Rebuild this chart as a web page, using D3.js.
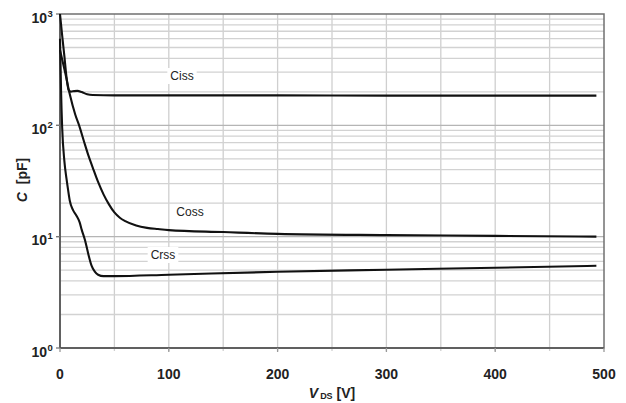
<!DOCTYPE html>
<html><head><meta charset="utf-8">
<script src="https://cdn.jsdelivr.net/npm/d3@7"></script>
<style>body{margin:0;background:#fff}svg{display:block}</style>
</head><body>
<svg id="c" width="626" height="403"></svg>
<script>
// Data (V_DS in volts, capacitance in pF)
const cissV = [0, 2, 4, 6, 8, 10, 13, 16, 20, 25, 30, 50, 100, 200, 300, 400, 493];
const cissC = [1000, 640, 420, 270, 207, 201, 203, 204, 199, 190, 187, 186, 186, 186, 185, 185, 185];
const cossV = [0, 5, 9, 14, 18, 22, 26, 30, 35, 40, 45, 50, 55, 60, 70, 80, 90, 100, 150, 200, 300, 400, 493];
const cossC = [475, 290, 190, 125, 97, 72, 54, 42, 31, 24, 19.5, 16.5, 14.8, 13.8, 12.6, 12.0, 11.7, 11.45, 11.0, 10.6, 10.33, 10.17, 10.0];
const crssV = [0, 0.5, 1, 2, 4, 6, 7.5, 9, 12, 15, 18, 20, 23, 26, 29, 32, 35, 40, 50, 100, 200, 300, 400, 493];
const crssC = [600, 350, 200, 95, 48, 33, 26, 21, 17.3, 15.5, 13.5, 11.5, 9.3, 7, 5.5, 4.85, 4.55, 4.42, 4.42, 4.55, 4.84, 5.05, 5.26, 5.48];
const seriesNames = ["Ciss", "Coss", "Crss"];
const xTicks = [0, 100, 200, 300, 400, 500];
const yDecades = [1, 10, 100, 1000];
const yExps = ["0", "1", "2", "3"];

const svg = d3.select("#c");
const x = d3.scaleLinear().domain([0, 500]).range([60, 604]);
const y = d3.scaleLog().domain([1, 1000]).range([348, 14]);

// grid
const g = svg.append("g");
const vGrid = d3.range(50, 500, 50);
g.selectAll(".vg").data(vGrid).enter().append("line")
  .attr("x1", d => x(d)).attr("x2", d => x(d))
  .attr("y1", y(1000)).attr("y2", y(1) + 3)
  .attr("stroke", "#cfcfcf").attr("stroke-width", 1.3);
const hGrid = [];
[1, 10, 100].forEach(dec => { for (let k = 2; k <= 9; k++) hGrid.push(dec * k); });
g.selectAll(".hg").data(hGrid).enter().append("line")
  .attr("x1", x(0)).attr("x2", x(500))
  .attr("y1", d => y(d)).attr("y2", d => y(d))
  .attr("stroke", "#d2d2d2").attr("stroke-width", 1.3);
g.selectAll(".dg").data([10, 100]).enter().append("line")
  .attr("x1", x(0) - 4).attr("x2", x(500))
  .attr("y1", d => y(d)).attr("y2", d => y(d))
  .attr("stroke", "#b5b5b5").attr("stroke-width", 1.3);

// frame
svg.append("rect").attr("x", x(0)).attr("y", y(1000))
  .attr("width", x(500) - x(0)).attr("height", y(1) - y(1000))
  .attr("fill", "none").attr("stroke", "#707070").attr("stroke-width", 1.5);
svg.append("line").attr("x1", x(0)).attr("x2", x(500)).attr("y1", y(1)).attr("y2", y(1))
  .attr("stroke", "#606060").attr("stroke-width", 2);
svg.append("line").attr("x1", x(0)).attr("x2", x(0)).attr("y1", y(1000)).attr("y2", y(1))
  .attr("stroke", "#505050").attr("stroke-width", 1.5);
// edge ticks
svg.selectAll(".yt").data(yDecades).enter().append("line")
  .attr("x1", x(0) - 4).attr("x2", x(0)).attr("y1", d => y(d)).attr("y2", d => y(d))
  .attr("stroke", "#777").attr("stroke-width", 1.3);
svg.selectAll(".xt").data(xTicks).enter().append("line")
  .attr("x1", d => x(d)).attr("x2", d => x(d)).attr("y1", y(1)).attr("y2", y(1) + 4)
  .attr("stroke", "#999").attr("stroke-width", 1.3);

// curves
const line = d3.line().x(d => x(d[0])).y(d => y(d[1])).curve(d3.curveMonotoneX);
const series = [
  d3.zip(cissV, cissC),
  d3.zip(cossV, cossC),
  d3.zip(crssV, crssC)
];
svg.selectAll(".curve").data(series).enter().append("path")
  .attr("d", line).attr("fill", "none").attr("stroke", "#111")
  .attr("stroke-width", 2.1).attr("stroke-linejoin", "round");

// curve labels with white backgrounds
const labelPos = [[182, 80], [190, 216], [163, 259]];
seriesNames.forEach((n, i) => {
  const t = svg.append("text").attr("x", labelPos[i][0]).attr("y", labelPos[i][1])
    .attr("text-anchor", "middle").attr("font-family", "Liberation Sans, Arial, sans-serif")
    .attr("font-size", 12).attr("fill", "#222").text(n);
  const b = t.node().getBBox();
  svg.insert("rect", "text").attr("x", b.x - 3).attr("y", b.y - 1)
    .attr("width", b.width + 6).attr("height", b.height + 2).attr("fill", "#fff");
});

// x tick labels
svg.selectAll(".xl").data(xTicks).enter().append("text")
  .attr("x", d => x(d)).attr("y", 379).attr("text-anchor", "middle")
  .attr("font-family", "Liberation Sans, Arial, sans-serif").attr("font-weight", "bold")
  .attr("font-size", 14).attr("fill", "#222").text(d => d);

// y tick labels
yDecades.forEach((d, i) => {
  svg.append("text").attr("x", 47).attr("y", y(d) + 8.5).attr("text-anchor", "end")
    .attr("font-family", "Liberation Sans, Arial, sans-serif").attr("font-weight", "bold")
    .attr("font-size", 14).attr("fill", "#222").text("10");
  svg.append("text").attr("x", 47.5).attr("y", y(d) + 2.5)
    .attr("font-family", "Liberation Sans, Arial, sans-serif").attr("font-weight", "bold")
    .attr("font-size", 9.5).attr("fill", "#222").text(yExps[i]);
});

// axis titles
const xt = svg.append("text").attr("x", 332).attr("y", 398).attr("text-anchor", "middle")
  .attr("font-family", "Liberation Sans, Arial, sans-serif").attr("font-weight", "bold")
  .attr("font-size", 14).attr("fill", "#222");
xt.append("tspan").attr("font-style", "italic").text("V");
xt.append("tspan").attr("font-size", 9).attr("dx", 2).attr("dy", 1).text("DS");
xt.append("tspan").attr("dy", -1).text(" [V]");

const yt = svg.append("text").attr("transform", "translate(27,180) rotate(-90)")
  .attr("text-anchor", "middle")
  .attr("font-family", "Liberation Sans, Arial, sans-serif").attr("font-weight", "bold")
  .attr("font-size", 14).attr("fill", "#222");
yt.append("tspan").attr("font-style", "italic").text("C");
yt.append("tspan").text("  [pF]").attr("xml:space", "preserve");
</script>
</body></html>
